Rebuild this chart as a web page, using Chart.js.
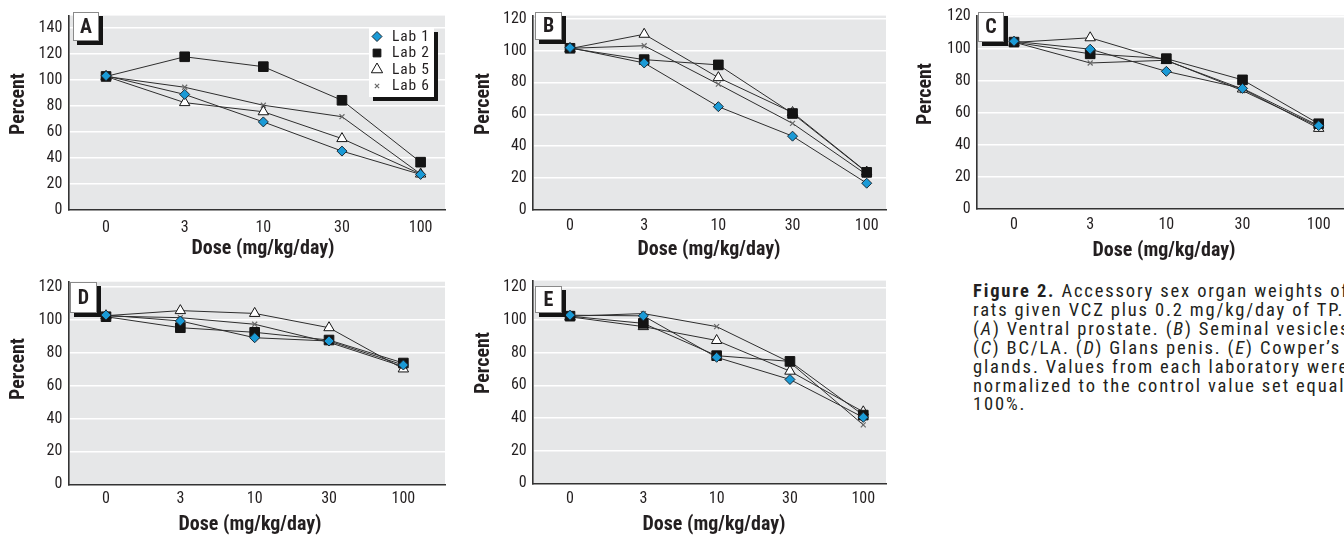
<!DOCTYPE html>
<html>
<head>
<meta charset="utf-8">
<script src="https://cdn.jsdelivr.net/npm/chart.js@4.4.1/dist/chart.umd.min.js"></script>
<style>
html,body{margin:0;padding:0;background:#fff;width:1344px;height:535px;overflow:hidden;position:relative}
canvas{position:absolute}
#caption{position:absolute;left:973px;top:282px;font-family:'Roboto Condensed','DejaVu Sans Condensed',sans-serif;font-size:18.5px;line-height:18.9px;color:#231f20;white-space:nowrap;letter-spacing:1.85px}
</style>
</head>
<body>
<canvas id="cA" width="460" height="262" style="left:0px;top:0px"></canvas>
<canvas id="cB" width="450" height="262" style="left:460px;top:0px"></canvas>
<canvas id="cC" width="480" height="262" style="left:900px;top:0px"></canvas>
<canvas id="cD" width="460" height="270" style="left:0px;top:265px"></canvas>
<canvas id="cE" width="450" height="270" style="left:460px;top:265px"></canvas>
<div id="caption"><b>Figure 2.</b> Accessory sex organ weights of<br>rats given VCZ plus 0.2 mg/kg/day of TP.<br>(<i>A</i>) Ventral prostate. (<i>B</i>) Seminal vesicles.<br>(<i>C</i>) BC/LA. (<i>D</i>) Glans penis. (<i>E</i>) Cowper’s<br>glands. Values from each laboratory were<br>normalized to the control value set equal to<br>100%.</div>
<script>
// ---------- data ----------
const doses = ['0', '3', '10', '30', '100'];
const labNames = ['Lab 1', 'Lab 2', 'Lab 5', 'Lab 6'];
const yTicksA = [0, 20, 40, 60, 80, 100, 120, 140];
const yTicks = [0, 20, 40, 60, 80, 100, 120];

// A: Ventral prostate
const aLab1 = [103, 88.7, 67.6, 45.2, 27.3];
const aLab2 = [102.5, 117.6, 110, 84.2, 36.7];
const aLab5 = [102.5, 82.4, 75.4, 54.8, 27.6];
const aLab6 = [102.5, 94.2, 80.4, 71.6, 27.6];
// B: Seminal vesicles
const bLab1 = [101.8, 92.2, 64.8, 46.3, 16.8];
const bLab2 = [101.4, 94.3, 91, 60.5, 23.6];
const bLab5 = [101.2, 110.2, 83, 61.1, 23.8];
const bLab6 = [101.4, 103, 78.9, 54.3, 22.1];
// C: BC/LA
const cLab1 = [104.5, 99.6, 85.8, 75.2, 52];
const cLab2 = [104, 96.7, 93.7, 80.5, 53.2];
const cLab5 = [103.8, 106.7, 92.5, 74.8, 50.3];
const cLab6 = [104, 91, 92.7, 73.8, 51.4];
// D: Glans penis
const dLab1 = [103, 99.4, 89.2, 87.2, 72.6];
const dLab2 = [102, 95.3, 92.5, 87.8, 73.8];
const dLab5 = [102.6, 105.7, 104, 95.3, 70.2];
const dLab6 = [102.4, 101.4, 97.4, 86.4, 71.6];
// E: Cowper's glands
const eLab1 = [103, 102.6, 77.2, 63.6, 40.4];
const eLab2 = [102.4, 98, 78.2, 74.7, 41.8];
const eLab5 = [102, 96, 87.5, 68.7, 43.8];
const eLab6 = [102.4, 104, 96, 74.1, 35.8];

// ---------- styles ----------
const FONT = "'Roboto Condensed', 'DejaVu Sans Condensed', sans-serif";
const INK = '#231f20';
const labStyles = [
  {pointStyle: 'rectRot', pointRadius: 5, pointBackgroundColor: '#1a9ad6', pointBorderColor: '#1b2a35', pointBorderWidth: 1},
  {pointStyle: 'rect', pointRadius: 6.8, pointBackgroundColor: '#141414', pointBorderColor: '#141414', pointBorderWidth: 1},
  {pointStyle: 'triangle', pointRadius: 6, pointBackgroundColor: '#ffffff', pointBorderColor: '#141414', pointBorderWidth: 1},
  {pointStyle: 'crossRot', pointRadius: 3.5, pointBackgroundColor: '#6a6a6a', pointBorderColor: '#6a6a6a', pointBorderWidth: 1.2}
];

function drawMarker(ctx, st, x, y, r) {
  ctx.save();
  ctx.fillStyle = st.pointBackgroundColor;
  ctx.strokeStyle = st.pointBorderColor;
  ctx.lineWidth = st.pointBorderWidth;
  if (Chart.helpers && Chart.helpers.drawPoint) {
    Chart.helpers.drawPoint(ctx, {pointStyle: st.pointStyle, rotation: 0, radius: r, borderWidth: st.pointBorderWidth}, x, y);
  }
  ctx.restore();
}

const decor = {
  id: 'decor',
  beforeDraw(chart, args, o) {
    const {ctx, chartArea: a} = chart;
    ctx.save();
    ctx.fillStyle = '#e6e7e8';
    ctx.fillRect(a.left, a.top, a.right - a.left, a.bottom - a.top);
    ctx.restore();
  },
  afterDraw(chart, args, o) {
    const ctx = chart.ctx;
    ctx.save();
    const b = o.box;
    ctx.fillStyle = '#141414';
    ctx.fillRect(b.x + 4, b.y + 4, b.w, b.h);
    ctx.fillStyle = '#ffffff';
    ctx.fillRect(b.x, b.y, b.w, b.h);
    ctx.strokeStyle = '#8a8a8a';
    ctx.lineWidth = 1;
    ctx.strokeRect(b.x + 0.5, b.y + 0.5, b.w - 1, b.h - 1);
    ctx.fillStyle = INK;
    ctx.textAlign = 'center';
    ctx.textBaseline = 'middle';
    ctx.font = 'bold 20px ' + FONT;
    ctx.fillText(o.letter, b.x + b.w / 2, b.y + b.h / 2 + 1);
    ctx.font = 'bold 20px ' + FONT;
    ctx.fillText('Dose (mg/kg/day)', o.xTitle.x, o.xTitle.y);
    ctx.save();
    ctx.translate(o.yTitle.x, o.yTitle.y);
    ctx.rotate(-Math.PI / 2);
    ctx.font = 'bold 20px ' + FONT;
    ctx.fillText('Percent', 0, 0);
    ctx.restore();
    if (o.legend) {
      const L = o.legend;
      ctx.fillStyle = '#141414';
      ctx.fillRect(L.x + 4, L.y + 4, L.w, L.h);
      ctx.fillStyle = '#ffffff';
      ctx.fillRect(L.x, L.y, L.w, L.h);
      ctx.font = '15.5px ' + FONT;
      ctx.textAlign = 'left';
      if ('letterSpacing' in ctx) ctx.letterSpacing = '0.8px';
      chart.data.datasets.forEach((ds, i) => {
        const y = L.y + 8.5 + i * 16.5;
        drawMarker(ctx, labStyles[i], L.x + 8, y, L.r[i]);
        ctx.fillStyle = INK;
        ctx.fillText(ds.label, L.x + 23, y + 0.5);
      });
    }
    ctx.restore();
  }
};

function makePanel(id, series, cfg) {
  const canvas = document.getElementById(id);
  const cw = canvas.width, ch = canvas.height;
  const datasets = series.map((vals, i) => Object.assign({
    label: labNames[i],
    data: vals.map((v, k) => ({x: k, y: v})),
    borderColor: '#2e2e2e',
    borderWidth: 1,
    fill: false,
    tension: 0
  }, labStyles[i]));
  return new Chart(canvas, {
    type: 'line',
    data: {datasets},
    plugins: [decor],
    options: {
      responsive: false,
      animation: false,
      devicePixelRatio: 1,
      events: [],
      layout: {padding: {left: 0, top: cfg.T, right: cw - cfg.R, bottom: 0}},
      plugins: {
        legend: {display: false},
        tooltip: {enabled: false},
        decor: cfg.decor
      },
      scales: {
        x: {
          type: 'linear',
          min: cfg.xmin,
          max: cfg.xmax,
          afterBuildTicks: (s) => { s.ticks = doses.map((d, k) => ({value: k})); },
          afterFit: (s) => { s.height = ch - cfg.B; },
          grid: {display: false, drawTicks: false},
          border: {display: true, color: '#333333', width: 1.6},
          ticks: {
            autoSkip: false,
            maxRotation: 0,
            padding: cfg.xPad,
            color: INK,
            font: {family: FONT, size: 16},
            callback: (v, k) => doses[k]
          }
        },
        y: {
          type: 'linear',
          min: 0,
          max: cfg.ymax,
          afterBuildTicks: (s) => { s.ticks = cfg.yTicks.map(v => ({value: v})); },
          afterFit: (s) => { s.width = cfg.L; },
          grid: {color: '#ffffff', lineWidth: 1.6, drawTicks: false},
          border: {display: true, color: '#333333', width: 1.6},
          ticks: {
            autoSkip: false,
            padding: 6,
            color: INK,
            font: {family: FONT, size: 16},
            callback: (v) => String(v)
          }
        }
      }
    }
  });
}

makePanel('cA', [aLab1, aLab2, aLab5, aLab6], {
  L: 68.3, R: 445, T: 12, B: 210, ymax: 149.2, yTicks: yTicksA, xmin: -0.48, xmax: 4.31, xPad: 8.5,
  decor: {letter: 'A', box: {x: 73, y: 12, w: 26, h: 29}, xTitle: {x: 263, y: 249}, yTitle: {x: 19, y: 104},
          legend: {x: 369, y: 28, w: 65, h: 69, r: [5, 5.5, 6.5, 3]}}
});
makePanel('cB', [bLab1, bLab2, bLab5, bLab6], {
  L: 72.7, R: 426, T: 11.7, B: 210, ymax: 121.9, yTicks: yTicks, xmin: -0.503, xmax: 4.26, xPad: 6.8,
  decor: {letter: 'B', box: {x: 75, y: 12, w: 27, h: 28}, xTitle: {x: 249, y: 250}, yTitle: {x: 24, y: 104}}
});
makePanel('cC', [cLab1, cLab2, cLab5, cLab6], {
  L: 76.7, R: 472, T: 11.7, B: 209.2, ymax: 120.5, yTicks: yTicks, xmin: -0.49, xmax: 4.7, xPad: 5.7,
  decor: {letter: 'C', box: {x: 78, y: 12, w: 26, h: 30}, xTitle: {x: 264, y: 251}, yTitle: {x: 26, y: 94}}
});
makePanel('cD', [dLab1, dLab2, dLab5, dLab6], {
  L: 68.3, R: 445, T: 16.7, B: 219.3, ymax: 123.3, yTicks: yTicks, xmin: -0.507, xmax: 4.56, xPad: 4.7,
  decor: {letter: 'D', box: {x: 70, y: 17, w: 27, h: 31}, xTitle: {x: 250, y: 260}, yTitle: {x: 19, y: 104}}
});
makePanel('cE', [eLab1, eLab2, eLab5, eLab6], {
  L: 72.7, R: 426, T: 13.3, B: 218.3, ymax: 124.2, yTicks: yTicks, xmin: -0.509, xmax: 4.31, xPad: 6,
  decor: {letter: 'E', box: {x: 75, y: 21, w: 27, h: 27}, xTitle: {x: 254, y: 260}, yTitle: {x: 24, y: 98}}
});
</script>
</body>
</html>
